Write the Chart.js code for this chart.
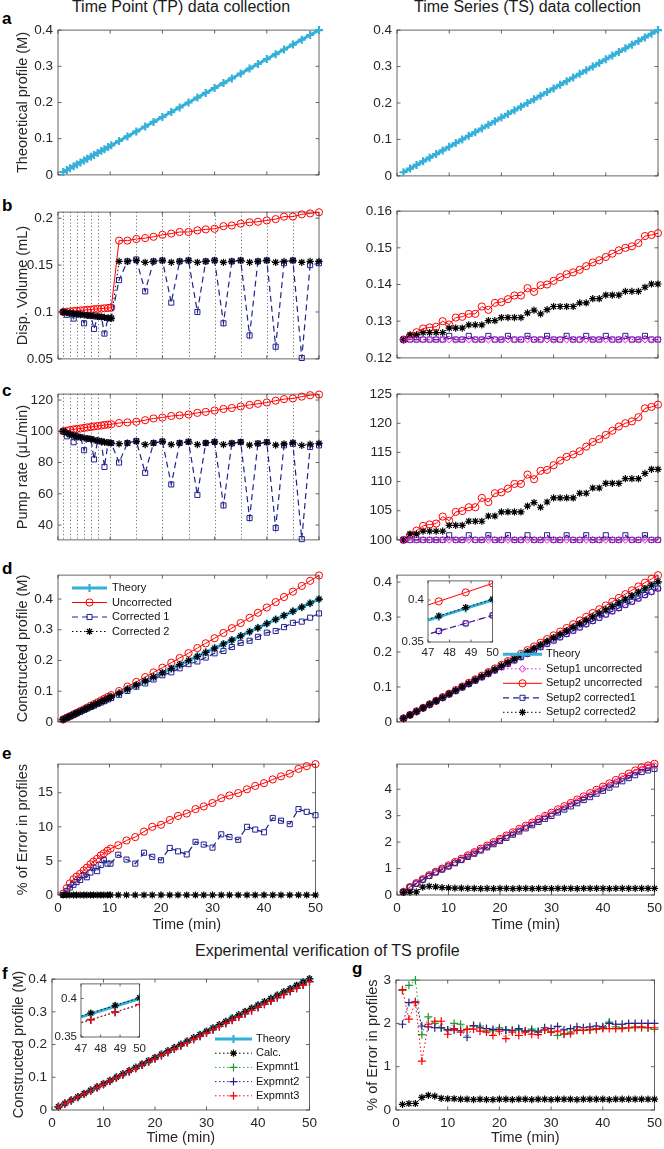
<!DOCTYPE html>
<html>
<head>
<meta charset="utf-8">
<script src="https://cdn.jsdelivr.net/npm/chart.js@4.4.0/dist/chart.umd.min.js"></script>
<style>
body { margin: 0; background: #fff; overflow: hidden; }
#fig { position: relative; width: 664px; height: 1149px; font-family: "Liberation Sans", Arial, sans-serif; color: #262626; }
.p { position: absolute; }
.lbl { position: absolute; font-weight: bold; font-size: 17px; line-height: 16px; color: #000; left: 2px; }
.ttl { position: absolute; font-size: 16px; line-height: 16px; white-space: nowrap; color: #1a1a1a; }
</style>
</head>
<body>
<div id="fig">
  <div class="ttl" style="left:0;width:362px;text-align:center;top:-1px">Time Point (TP) data collection</div>
  <div class="ttl" style="left:391px;width:273px;text-align:center;top:-1px">Time Series (TS) data collection</div>
  <div class="ttl" style="left:195px;top:943px">Experimental verification of TS profile</div>
  <div class="lbl" style="top:11px">a</div>
  <div class="lbl" style="top:198px">b</div>
  <div class="lbl" style="top:383px">c</div>
  <div class="lbl" style="top:561px">d</div>
  <div class="lbl" style="top:746px">e</div>
  <div class="lbl" style="top:966px">f</div>
  <div class="lbl" style="top:961px;left:352px">g</div>
</div>
<script>
// ---- time axes ----
const tTP = [1, 1.7, 2.3, 3, 3.6, 4.3, 5, 5.6, 6.3, 6.9, 7.6, 8.3, 8.9, 9.6, 10.2,
  11.7, 13.3, 15, 16.7, 18.3, 20, 21.7, 23.3, 25, 26.7, 28.3, 30, 31.7, 33.3, 35, 36.7, 38.3, 40, 41.7, 43.3, 45, 46.7, 48.3, 50];
const tpSteps = [1, 2.33, 3.67, 5, 6.33, 7.67, 10, 15, 20, 25, 30, 35, 40, 45];
const tTS = [1.25, 2.5, 3.75, 5, 6.25, 7.5, 8.75, 10, 11.25, 12.5, 13.75, 15, 16.25, 17.5, 18.75, 20, 21.25, 22.5, 23.75, 25,
  26.25, 27.5, 28.75, 30, 31.25, 32.5, 33.75, 35, 36.25, 37.5, 38.75, 40, 41.25, 42.5, 43.75, 45, 46.25, 47.5, 48.75, 50];

// ---- TP (left column) ----
const tpTheory = [.008, .0136, .0184, .024, .0288, .0344, .04, .0448, .0504, .0552, .0608, .0664, .0712, .0768, .0816,
  .0936, .1064, .12, .1336, .1464, .16, .1736, .1864, .2, .2136, .2264, .24, .2536, .2664, .28, .2936, .3064, .32, .3336, .3464, .36, .3736, .3864, .4];
const tpVolUnc = [.1, .1003, .1006, .101, .1013, .1016, .102, .1023, .1026, .103, .1033, .1036, .104, .1043, .1045,
  .1761, .1761, .1778, .1788, .1802, .1823, .1836, .1853, .1853, .187, .1881, .1887, .1915, .1922, .1942, .1956, .1962, .1976, .199, .2017, .2017, .2041, .2051, .2063];
const tpVolC1 = [.1, .097, .0988, .093, .0978, .0973, .088, .0965, .096, .082, .0952, .0947, .077, .0937, .0932,
  .134, .154, .156, .122, .154, .155, .11, .154, .155, .1, .154, .155, .088, .154, .155, .075, .154, .155, .063, .152, .155, .051, .15, .152];
const tpVolC2 = [.1, .0993, .0988, .0982, .0978, .0973, .0968, .0965, .096, .0955, .0952, .0947, .0942, .0937, .0932,
  .154, .154, .155, .153, .154, .155, .153, .154, .155, .153, .154, .155, .153, .154, .155, .153, .154, .155, .153, .154, .155, .153, .154, .154];
const tpRateUnc = [100, 100.4, 100.8, 101.2, 101.5, 101.8, 102.2, 102.5, 102.8, 103.1, 103.4, 103.7, 104, 104.3, 104.5,
  105.3, 105.7, 106.1, 107.1, 108.2, 108.8, 109.8, 110.2, 110.8, 111.8, 112.4, 113.3, 114.3, 114.9, 115.9, 116.9, 117.6, 118.4, 119.6, 120.6, 121, 122.2, 123.1, 123.5];
const tpRateC1 = [100, 96.8, 98, 93, 96.7, 96.2, 87.9, 95.4, 95, 82, 94, 93.5, 77.2, 92.8, 92.5,
  80, 92.5, 93.8, 73.4, 92.5, 93.5, 66, 92.5, 93.3, 59.3, 92.5, 93.2, 52.6, 92.3, 93.1, 44.5, 92.2, 93, 38.2, 91, 92, 31, 90, 91];
const tpRateC2 = [100, 99, 98, 97.3, 96.7, 96.2, 95.8, 95.4, 95, 94.5, 94, 93.5, 93.1, 92.8, 92.5,
  92, 92.5, 93.5, 91.5, 92.5, 93.5, 91.5, 92.5, 93.3, 91.5, 92.5, 93.2, 91.5, 92.3, 93.1, 91.2, 92.2, 93, 91.2, 92, 92.8, 91, 91.8, 92.3];
const tpProfUnc = [.008, .0137, .0187, .0246, .0296, .0355, .0414, .0466, .0527, .0579, .064, .0703, .0755, .0818, .0871,
  .1004, .1149, .1302, .146, .161, .1765, .1927, .208, .2239, .2405, .2558, .2724, .2896, .3053, .3219, .3391, .3554, .3725, .3901, .4067, .4241, .4427, .4594, .4768];
const tpProfC1 = [.008, .0135, .0182, .0236, .0283, .0336, .0388, .0436, .0487, .053, .0587, .0635, .0676, .0733, .0778,
  .0881, .1009, .1145, .1253, .1382, .1518, .1616, .1745, .1881, .1969, .2096, .2233, .231, .2438, .2573, .2642, .277, .2906, .2959, .3086, .3226, .3265, .3393, .3532];
const tpProfC2 = [.008, .0136, .0184, .024, .0288, .0344, .04, .0448, .0504, .0552, .0608, .0664, .0712, .0768, .0816,
  .0936, .1064, .12, .1336, .1464, .16, .1736, .1864, .2, .2136, .2264, .24, .2536, .2664, .28, .2936, .3064, .32, .3336, .3464, .36, .3736, .3864, .4];
const tpErrUnc = [0.2, 1.0, 1.7, 2.3, 2.7, 3.1, 3.6, 4.0, 4.5, 4.9, 5.3, 5.8, 6.1, 6.5, 6.8,
  7.3, 8.0, 8.5, 9.3, 10.0, 10.3, 11.0, 11.6, 11.95, 12.6, 13.0, 13.5, 14.2, 14.6, 14.95, 15.5, 16.0, 16.4, 16.95, 17.4, 17.8, 18.5, 18.9, 19.2];
const tpErrC1 = [0, 0.6, 1.1, 1.5, 1.9, 2.2, 2.9, 2.6, 3.3, 4.0, 3.5, 4.4, 5.1, 4.6, 4.6,
  5.9, 5.2, 4.6, 6.2, 5.6, 5.1, 6.9, 6.4, 5.95, 7.8, 7.4, 6.95, 8.9, 8.5, 8.1, 10.0, 9.6, 9.2, 11.3, 10.9, 10.4, 12.6, 12.2, 11.7];
const tpErrC2 = [0, 0, 0, 0, 0, 0, 0, 0, 0, 0, 0, 0, 0, 0, 0,
  0, 0, 0, 0, 0, 0, 0, 0, 0, 0, 0, 0, 0, 0, 0, 0, 0, 0, 0, 0, 0, 0, 0, 0];

// ---- TS (right column) ----
const tsTheory = [.01, .02, .03, .04, .05, .06, .07, .08, .09, .1, .11, .12, .13, .14, .15, .16, .17, .18, .19, .2,
  .21, .22, .23, .24, .25, .26, .27, .28, .29, .3, .31, .32, .33, .34, .35, .36, .37, .38, .39, .4];
const tsVolS1 = [.125, .125, .125, .125, .125, .125, .125, .125, .125, .125, .125, .125, .125, .125, .125, .125, .125, .125, .125, .125,
  .125, .125, .125, .125, .125, .125, .125, .125, .125, .125, .125, .125, .125, .125, .125, .125, .125, .125, .125, .125];
const tsVolS2U = [.125, .126, .127, .128, .1283, .1285, .13, .1291, .131, .1312, .132, .132, .134, .1331, .135, .1352, .136, .137, .137, .139,
  .138, .1398, .14, .141, .142, .1428, .1433, .144, .145, .146, .1466, .1475, .1484, .1493, .15, .1504, .1513, .1532, .1535, .154];
const tsVolS2C1 = [.125, .125, .125, .125, .125, .125, .125, .126, .125, .125, .126, .125, .125, .126, .125, .125, .126, .125, .125, .126,
  .125, .125, .126, .125, .125, .126, .125, .125, .126, .125, .125, .126, .125, .125, .126, .125, .125, .126, .125, .125];
const tsVolS2C2 = [.125, .12625, .12625, .12688, .12688, .12688, .12688, .12813, .12813, .12813, .129, .129, .129, .13013, .13013, .131, .131, .131, .131, .13225,
  .133, .132, .13313, .134, .134, .134, .134, .135, .135, .13613, .13613, .13713, .13713, .13713, .13813, .13813, .13813, .13925, .14013, .14013];
const tsRateS1 = [100, 100, 100, 100, 100, 100, 100, 100, 100, 100, 100, 100, 100, 100, 100, 100, 100, 100, 100, 100,
  100, 100, 100, 100, 100, 100, 100, 100, 100, 100, 100, 100, 100, 100, 100, 100, 100, 100, 100, 100];
const tsRateS2U = [100, 100.8, 101.6, 102.4, 102.64, 102.8, 104, 103.28, 104.8, 104.96, 105.6, 105.6, 107.2, 106.48, 108, 108.16, 108.8, 109.6, 109.6, 111.2,
  110.4, 111.84, 112, 112.8, 113.6, 114.24, 114.64, 115.2, 116, 116.8, 117.28, 118, 118.72, 119.44, 120, 120.32, 121.04, 122.56, 122.8, 123.2];
const tsRateS2C1 = [100, 100, 100, 100, 100, 100, 100, 100.8, 100, 100, 100.8, 100, 100, 100.8, 100, 100, 100.8, 100, 100, 100.8,
  100, 100, 100.8, 100, 100, 100.8, 100, 100, 100.8, 100, 100, 100.8, 100, 100, 100.8, 100, 100, 100.8, 100, 100];
const tsRateS2C2 = [100, 101, 101, 101.5, 101.5, 101.5, 101.5, 102.5, 102.5, 102.5, 103.2, 103.2, 103.2, 104.1, 104.1, 104.8, 104.8, 104.8, 104.8, 105.8,
  106.4, 105.6, 106.5, 107.2, 107.2, 107.2, 107.2, 108, 108, 108.9, 108.9, 109.7, 109.7, 109.7, 110.5, 110.5, 110.5, 111.4, 112.1, 112.1];
const tsProfS1 = [.01, .0199, .0299, .0398, .0496, .0595, .0693, .0791, .0889, .0987, .1084, .1181, .1278, .1374, .147, .1567, .1662, .1758, .1853, .1948,
  .2043, .2138, .2232, .2327, .242, .2514, .2607, .27, .2794, .2886, .2978, .3071, .3163, .3254, .3346, .3437, .3528, .3628, .372, .3815];
const tsProfS2U = [.01, .0201, .0301, .0402, .0504, .0605, .0707, .0809, .0911, .1014, .1117, .1219, .1323, .1426, .153, .1634, .1738, .1843, .1948, .2052,
  .2158, .2263, .2369, .2475, .2581, .2687, .2794, .2901, .3008, .3116, .3223, .3331, .3439, .3548, .3656, .3765, .3874, .3984, .4091, .4198];
const tsProfS2C1 = [.01, .0199, .0299, .0398, .0496, .0595, .0693, .0791, .0889, .0987, .1084, .1181, .1278, .1375, .1471, .1567, .1663, .1759, .1854, .195,
  .2045, .2139, .2234, .2328, .2422, .2516, .261, .2703, .2796, .2889, .2981, .3074, .3166, .3258, .335, .3441, .3532, .3632, .3722, .3818];
const tsProfS2C2 = [.01, .02, .0301, .0401, .0502, .0602, .0702, .0802, .0902, .1003, .1103, .1203, .1303, .1404, .1504, .1604, .1704, .1805, .1905, .2005,
  .2105, .2206, .2306, .2406, .2506, .2607, .2707, .2807, .2907, .3008, .3108, .3208, .3308, .3409, .3509, .3609, .3709, .381, .391, .401];
const tsErrS1 = [.12, .3, .44, .59, .74, .87, .99, 1.1, 1.23, 1.35, 1.48, 1.6, 1.72, 1.84, 1.97, 2.09, 2.22, 2.33, 2.46, 2.58,
  2.7, 2.83, 2.95, 3.06, 3.19, 3.31, 3.43, 3.56, 3.67, 3.79, 3.92, 4.04, 4.16, 4.28, 4.4, 4.52, 4.64, 4.76, 4.83, 4.89];
const tsErrS2U = [.12, .3, .45, .6, .75, .88, 1.0, 1.12, 1.25, 1.37, 1.5, 1.62, 1.75, 1.87, 2.0, 2.12, 2.25, 2.37, 2.5, 2.62,
  2.74, 2.87, 2.99, 3.11, 3.24, 3.36, 3.48, 3.61, 3.73, 3.85, 3.98, 4.1, 4.22, 4.35, 4.47, 4.59, 4.71, 4.83, 4.9, 4.96];
const tsErrS2C1 = [.11, .29, .43, .58, .72, .85, .96, 1.08, 1.2, 1.32, 1.44, 1.56, 1.68, 1.8, 1.92, 2.04, 2.16, 2.28, 2.4, 2.52,
  2.64, 2.76, 2.88, 2.99, 3.12, 3.23, 3.35, 3.47, 3.59, 3.7, 3.83, 3.94, 4.06, 4.18, 4.3, 4.42, 4.53, 4.65, 4.71, 4.77];
const tsErrS2C2 = [.1, .11, .12, .3, .33, .31, .28, .27, .26, .26, .25, .25, .24, .25, .24, .25, .25, .24, .25, .25,
  .24, .25, .25, .24, .25, .25, .25, .24, .25, .25, .25, .25, .24, .25, .25, .25, .25, .25, .25, .25];

// ---- experimental verification ----
const expCalc = [.01, .02, .0301, .0401, .0502, .0602, .0702, .0802, .0902, .1003, .1103, .1203, .1303, .1404, .1504, .1604, .1704, .1805, .1905, .2005,
  .2105, .2206, .2306, .2406, .2506, .2607, .2707, .2807, .2907, .3008, .3108, .3208, .3308, .3409, .3509, .3609, .3709, .381, .391, .401];
const expProf1 = [.0097, .0194, .0291, .0393, .0489, .0588, .0687, .0785, .0882, .098, .1079, .1177, .1275, .1374, .1473, .157, .1669, .1767, .1866, .1964,
  .206, .216, .2259, .2357, .2457, .2553, .2651, .2748, .2847, .2943, .3041, .3139, .3234, .3335, .3434, .3532, .363, .3728, .3826, .3924];
const expProf2 = [.0098, .0195, .0293, .0392, .049, .0589, .0687, .0785, .0883, .0982, .1082, .1177, .1275, .1374, .1472, .157, .1669, .1767, .1864, .1964,
  .2062, .216, .2256, .2355, .2452, .2552, .2649, .2746, .2845, .2942, .304, .3138, .3234, .3333, .3431, .3528, .3626, .3724, .3822, .392];
const expProf3 = [.0097, .0196, .0293, .0395, .049, .0588, .0686, .0786, .0883, .0982, .108, .1178, .1276, .1375, .1474, .1571, .1672, .1768, .1867, .1964,
  .2063, .216, .2257, .2357, .2455, .2554, .2652, .2748, .2847, .2944, .3042, .314, .3238, .3336, .3434, .3532, .363, .3722, .3822, .3922];
const errCalc = [.13, .15, .15, .29, .34, .32, .27, .26, .26, .25, .25, .24, .25, .24, .24, .25, .25, .24, .25, .25,
  .24, .25, .25, .24, .25, .25, .25, .24, .25, .25, .25, .25, .24, .25, .25, .25, .25, .25, .25, .25];
const errExp1 = [2.76, 2.88, 3.0, 1.74, 2.15, 2.0, 1.9, 1.85, 2.0, 1.98, 1.86, 1.94, 1.94, 1.83, 1.83, 1.9, 1.85, 1.84, 1.85, 1.83,
  1.87, 1.82, 1.85, 1.8, 1.72, 1.75, 1.8, 1.85, 1.84, 1.86, 1.88, 1.9, 2.03, 1.92, 1.9, 1.9, 1.92, 1.9, 1.9, 1.86];
const errExp2 = [1.98, 2.48, 2.5, 1.94, 1.92, 1.9, 1.9, 1.85, 1.85, 1.83, 1.68, 1.95, 1.9, 1.88, 1.86, 1.86, 1.85, 1.83, 1.88, 1.82,
  1.83, 1.8, 1.9, 1.88, 1.93, 1.85, 1.88, 1.92, 1.9, 1.92, 1.94, 1.92, 2.0, 1.98, 1.98, 2.0, 2.0, 2.0, 2.0, 2.0];
const errExp3 = [2.78, 2.1, 2.48, 1.13, 1.98, 2.05, 2.05, 1.75, 1.88, 1.8, 1.86, 1.87, 1.82, 1.8, 1.72, 1.82, 1.65, 1.8, 1.72, 1.8,
  1.75, 1.74, 1.85, 1.8, 1.82, 1.76, 1.76, 1.84, 1.84, 1.85, 1.86, 1.88, 1.88, 1.88, 1.88, 1.9, 1.9, 1.92, 1.9, 1.9];

// ---- tick values ----
const xTicks = [0, 10, 20, 30, 40, 50];
const insetX = [47, 48, 49, 50];
const insetY = [0.35, 0.4];

const FONT = "'Liberation Sans', Arial, sans-serif";
Chart.defaults.font.family = FONT;
Chart.defaults.color = '#262626';

const C_TH = '#35b1d9', C_RED = '#ff0000', C_NAVY = '#22228f', C_BLK = '#000000', C_MAG = '#ec1fe0', C_GRN = '#1f9c33';
const DOT = [1.5, 2.5], DASH = [6, 4];
const S = {
  theory: {borderColor: C_TH, pointBorderColor: C_TH, borderWidth: 3, pointStyle: 'cross', pointRadius: 4, pointBorderWidth: 2.2},
  unc: {borderColor: C_RED, pointBorderColor: C_RED, borderWidth: 1, pointStyle: 'circle', pointRadius: 3.6, pointBorderWidth: 1},
  c1: {borderColor: C_NAVY, pointBorderColor: C_NAVY, borderWidth: 1.2, borderDash: DASH, pointStyle: 'rect', pointRadius: 3.6, pointBorderWidth: 1},
  c2: {borderColor: C_BLK, pointBorderColor: C_BLK, borderWidth: 1, borderDash: DOT, pointStyle: 'star', pointRadius: 3.6, pointBorderWidth: 1.2},
  s1: {borderColor: C_MAG, pointBorderColor: C_MAG, borderWidth: 1, borderDash: DOT, pointStyle: 'rectRot', pointRadius: 3.4, pointBorderWidth: 1},
  e1: {borderColor: C_GRN, pointBorderColor: C_GRN, borderWidth: 1, borderDash: DOT, pointStyle: 'cross', pointRadius: 4, pointBorderWidth: 1.2},
  e2: {borderColor: C_NAVY, pointBorderColor: C_NAVY, borderWidth: 1, borderDash: DOT, pointStyle: 'cross', pointRadius: 4, pointBorderWidth: 1.2},
  e3: {borderColor: C_RED, pointBorderColor: C_RED, borderWidth: 1, borderDash: DOT, pointStyle: 'cross', pointRadius: 4, pointBorderWidth: 1.2}
};

function ds(xs, ys, st, extra) {
  return Object.assign({
    data: xs.map((x, i) => ({x: x, y: ys[i]})),
    showLine: true, fill: false,
    pointBackgroundColor: 'rgba(0,0,0,0)', backgroundColor: 'rgba(0,0,0,0)'
  }, st, extra || {});
}

const EXTRA = {};

// matlab style box, inward ticks, dotted step lines
const boxPlugin = {
  id: 'mbox',
  beforeDraw(chart) {
    const e = EXTRA[chart.canvas.id];
    if (!e || !e.fill) return;
    const a = chart.chartArea, ctx = chart.ctx;
    ctx.save();
    ctx.fillStyle = '#fff';
    ctx.fillRect(a.left, a.top, a.right - a.left, a.bottom - a.top);
    ctx.restore();
  },
  beforeDatasetsDraw(chart) {
    const e = EXTRA[chart.canvas.id] || {};
    const a = chart.chartArea, ctx = chart.ctx, sx = chart.scales.x, sy = chart.scales.y;
    ctx.save();
    if (e.steps) {
      ctx.strokeStyle = '#333';
      ctx.lineWidth = 0.8;
      ctx.setLineDash([1, 2.5]);
      e.steps.forEach(v => {
        const px = Math.round(sx.getPixelForValue(v)) + 0.5;
        ctx.beginPath(); ctx.moveTo(px, a.top); ctx.lineTo(px, a.bottom); ctx.stroke();
      });
      ctx.setLineDash([]);
    }
    ctx.strokeStyle = '#404040';
    ctx.lineWidth = 0.8;
    ctx.strokeRect(a.left, a.top, a.right - a.left, a.bottom - a.top);
    const tl = e.fill ? 2.5 : 3.5;
    ctx.beginPath();
    sx.ticks.forEach(t => {
      const px = sx.getPixelForValue(t.value);
      ctx.moveTo(px, a.bottom); ctx.lineTo(px, a.bottom - tl);
      ctx.moveTo(px, a.top); ctx.lineTo(px, a.top + tl);
    });
    sy.ticks.forEach(t => {
      const py = sy.getPixelForValue(t.value);
      ctx.moveTo(a.left, py); ctx.lineTo(a.left + tl, py);
      ctx.moveTo(a.right, py); ctx.lineTo(a.right - tl, py);
    });
    ctx.stroke();
    ctx.restore();
  }
};

// legend drawn inside the plot, no frame
const legPlugin = {
  id: 'mleg',
  afterDatasetsDraw(chart) {
    const e = EXTRA[chart.canvas.id];
    if (!e || !e.legend) return;
    const o = e.legend, ctx = chart.ctx;
    ctx.save();
    o.items.forEach((it, r) => {
      const d = chart.data.datasets[it[0]];
      const y = o.y - e.oy + r * o.dy, x = o.x - e.ox;
      ctx.strokeStyle = d.borderColor;
      ctx.lineWidth = d.borderWidth;
      ctx.setLineDash(d.borderDash || []);
      ctx.beginPath(); ctx.moveTo(x, y); ctx.lineTo(x + o.len, y); ctx.stroke();
      ctx.setLineDash([]);
      ctx.fillStyle = 'rgba(0,0,0,0)';
      ctx.strokeStyle = d.pointBorderColor;
      ctx.lineWidth = d.pointBorderWidth;
      Chart.helpers.drawPoint(ctx, {pointStyle: d.pointStyle, radius: d.pointRadius, borderWidth: d.pointBorderWidth, rotation: 0}, x + o.len / 2, y);
      ctx.fillStyle = '#111';
      ctx.font = '11px ' + FONT;
      ctx.textBaseline = 'middle';
      ctx.fillText(it[1], o.tx - e.ox, y);
    });
    ctx.restore();
  }
};
Chart.register(boxPlugin, legPlugin);

const PT = 10, PR = 9;
let nPanel = 0;

function panel(p) {
  const fig = document.getElementById('fig');
  const left = p.x - p.W, top = p.y - PT;
  const div = document.createElement('div');
  div.className = 'p';
  div.style.cssText = 'left:' + left + 'px;top:' + top + 'px;width:' + (p.W + p.w + PR) + 'px;height:' + (PT + p.h + p.H) + 'px;' + (p.inset ? 'z-index:2;' : 'z-index:1;');
  const cv = document.createElement('canvas');
  cv.id = 'cv' + (nPanel++);
  div.appendChild(cv);
  fig.appendChild(div);
  EXTRA[cv.id] = {steps: p.steps, legend: p.legend, fill: !!p.inset, ox: left, oy: top};
  const fs = p.inset ? 11.5 : 13.5;
  const n = p.sets.length;
  new Chart(cv, {
    type: 'scatter',
    data: {datasets: p.sets.map((s, i) => Object.assign({order: n - i, clip: p.inset ? 0 : false}, s))},
    options: {
      responsive: true, maintainAspectRatio: false, animation: false, events: [],
      layout: {padding: {top: PT, right: PR, left: 0, bottom: 0}},
      scales: {
        x: {
          type: 'linear', min: p.xMin, max: p.xMax,
          grid: {display: false, drawTicks: false}, border: {display: false},
          ticks: {display: !!p.xLabels, padding: p.xPad || 5, font: {size: fs}, color: '#262626', maxRotation: 0, autoSkip: false, callback: v => String(v)},
          afterBuildTicks: s => { s.ticks = p.xTicks.map(v => ({value: v})); },
          afterFit: s => { s.height = p.H; },
          title: p.xTitle ? {display: true, text: p.xTitle, font: {size: 14.5}, color: '#262626', padding: {top: 0, bottom: 2}} : {display: false}
        },
        y: {
          type: 'linear', min: p.yMin, max: p.yMax,
          grid: {display: false, drawTicks: false}, border: {display: false},
          ticks: {padding: p.inset ? 4 : 5, font: {size: fs}, color: '#262626', autoSkip: false, callback: v => String(v)},
          afterBuildTicks: s => { s.ticks = p.yTicks.map(v => ({value: v})); },
          afterFit: s => { s.width = p.W; },
          title: p.yTitle ? {display: true, text: p.yTitle, font: {size: 14.5}, color: '#262626', padding: {top: p.yPad, bottom: 0}} : {display: false}
        }
      },
      plugins: {legend: {display: false}, tooltip: {enabled: false}}
    }
  });
}

const L = {x: 58, w: 261, W: 58, yPad: 14};
const R = {x: 397, w: 261, W: 52};
function col(c, extra) { return Object.assign({x: c.x, w: c.w, W: c.W, yPad: c.yPad, xMin: 0, xMax: 50, xTicks: xTicks, H: 9}, extra); }
const TOP = {order: 0};

// a
panel(col(L, {y: 27, h: 152, yMin: 0, yMax: 0.4, yTicks: [0, 0.1, 0.2, 0.3, 0.4], yTitle: 'Theoretical profile (M)',
  sets: [ds(tTP, tpTheory, S.theory)]}));
panel(col(R, {y: 27, h: 153, yMin: 0, yMax: 0.4, yTicks: [0, 0.1, 0.2, 0.3, 0.4],
  sets: [ds(tTS, tsTheory, S.theory)]}));
// b
panel(col(L, {y: 209, h: 154, yMin: 0.05, yMax: 0.2065, yTicks: [0.05, 0.1, 0.15, 0.2], yTitle: 'Disp. Volume (mL)', steps: tpSteps,
  sets: [ds(tTP, tpVolUnc, S.unc), ds(tTP, tpVolC1, S.c1), ds(tTP, tpVolC2, S.c2)]}));
panel(col(R, {y: 208, h: 154, yMin: 0.12, yMax: 0.16, yTicks: [0.12, 0.13, 0.14, 0.15, 0.16],
  sets: [ds(tTS, tsVolS1, S.s1, TOP), ds(tTS, tsVolS2U, S.unc), ds(tTS, tsVolS2C1, S.c1), ds(tTS, tsVolS2C2, S.c2)]}));
// c
panel(col(L, {y: 391, h: 153, yMin: 30.5, yMax: 123.8, yTicks: [40, 60, 80, 100, 120], yTitle: 'Pump rate (μL/min)', steps: tpSteps,
  sets: [ds(tTP, tpRateUnc, S.unc), ds(tTP, tpRateC1, S.c1), ds(tTP, tpRateC2, S.c2)]}));
panel(col(R, {y: 391, h: 153, yMin: 100, yMax: 125, yTicks: [100, 105, 110, 115, 120, 125],
  sets: [ds(tTS, tsRateS1, S.s1, TOP), ds(tTS, tsRateS2U, S.unc), ds(tTS, tsRateS2C1, S.c1), ds(tTS, tsRateS2C2, S.c2)]}));
// d
panel(col(L, {y: 572, h: 154, yMin: 0, yMax: 0.478, yTicks: [0, 0.1, 0.2, 0.3, 0.4], yTitle: 'Constructed profile (M)',
  sets: [ds(tTP, tpTheory, S.theory), ds(tTP, tpProfUnc, S.unc), ds(tTP, tpProfC1, S.c1), ds(tTP, tpProfC2, S.c2)],
  legend: {x: 72, len: 35, tx: 112, y: 588, dy: 14.5, items: [[0, 'Theory'], [1, 'Uncorrected'], [2, 'Corrected 1'], [3, 'Corrected 2']]}}));
panel(col(R, {y: 572, h: 154, yMin: 0, yMax: 0.42, yTicks: [0, 0.1, 0.2, 0.3, 0.4],
  sets: [ds(tTS, tsTheory, S.theory), ds(tTS, tsProfS1, S.s1), ds(tTS, tsProfS2U, S.unc), ds(tTS, tsProfS2C1, S.c1), ds(tTS, tsProfS2C2, S.c2)],
  legend: {x: 503, len: 39, tx: 546, y: 654.3, dy: 14.5, items: [[0, 'Theory'], [1, 'Setup1 uncorrected'], [2, 'Setup2 uncorrected'], [3, 'Setup2 corrected1'], [4, 'Setup2 corrected2']]}}));
panel({x: 428, w: 66, W: 28, y: 580, h: 62, H: 20, inset: true, xMin: 47, xMax: 50, xTicks: insetX, xLabels: true, xPad: 4,
  yMin: 0.35, yMax: 0.4228, yTicks: insetY,
  sets: [ds(tTS, tsTheory, S.theory), ds(tTS, tsProfS1, S.s1), ds(tTS, tsProfS2U, S.unc), ds(tTS, tsProfS2C1, S.c1), ds(tTS, tsProfS2C2, S.c2)]});
// e
panel(col(L, {y: 761, h: 134, H: 41, xLabels: true, xTitle: 'Time (min)', yMin: 0, yMax: 19.2, yTicks: [0, 5, 10, 15], yTitle: '% of Error in profiles',
  sets: [ds(tTP, tpErrUnc, S.unc), ds(tTP, tpErrC1, S.c1), ds(tTP, tpErrC2, S.c2)]}));
panel(col(R, {y: 761, h: 134, H: 41, xLabels: true, xTitle: 'Time (min)', yMin: 0, yMax: 4.95, yTicks: [0, 1, 2, 3, 4],
  sets: [ds(tTS, tsErrS1, S.s1), ds(tTS, tsErrS2U, S.unc), ds(tTS, tsErrS2C1, S.c1), ds(tTS, tsErrS2C2, S.c2)]}));
// f
panel({x: 52, w: 261, W: 52, yPad: 10, y: 976, h: 134, H: 39, xMin: 0, xMax: 50, xTicks: xTicks, xLabels: true, xTitle: 'Time (min)',
  yMin: 0, yMax: 0.4, yTicks: [0, 0.1, 0.2, 0.3, 0.4], yTitle: 'Constructed profile (M)',
  sets: [ds(tTS, tsTheory, S.theory), ds(tTS, expCalc, S.c2), ds(tTS, expProf1, S.e1), ds(tTS, expProf2, S.e2), ds(tTS, expProf3, S.e3)],
  legend: {x: 215, len: 37, tx: 256, y: 1039, dy: 14.2, items: [[0, 'Theory'], [1, 'Calc.'], [2, 'Expmnt1'], [3, 'Expmnt2'], [4, 'Expmnt3']]}});
panel({x: 81, w: 61, W: 28, y: 983, h: 54, H: 20, inset: true, xMin: 47, xMax: 50, xTicks: insetX, xLabels: true, xPad: 5,
  yMin: 0.35, yMax: 0.419, yTicks: insetY,
  sets: [ds(tTS, tsTheory, S.theory), ds(tTS, expCalc, S.c2), ds(tTS, expProf1, S.e1), ds(tTS, expProf2, S.e2), ds(tTS, expProf3, S.e3)]});
// g
panel({x: 396, w: 262, W: 45, yPad: 13, y: 977, h: 133, H: 39, xMin: 0, xMax: 50, xTicks: xTicks, xLabels: true, xTitle: 'Time (min)',
  yMin: 0, yMax: 3, yTicks: [0, 1, 2, 3], yTitle: '% of Error in profiles',
  sets: [ds(tTS, errCalc, S.c2), ds(tTS, errExp1, S.e1), ds(tTS, errExp2, S.e2), ds(tTS, errExp3, S.e3)]});
</script>
</body>
</html>
